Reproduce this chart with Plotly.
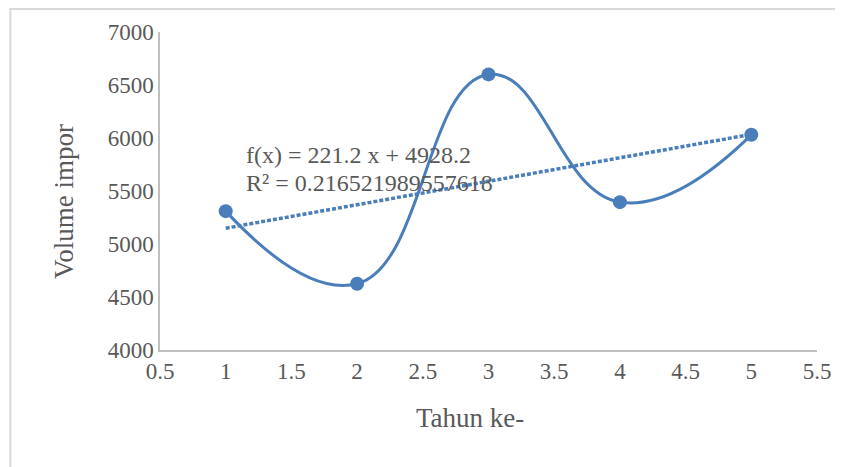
import plotly.graph_objects as go

years = [1, 2, 3, 4, 5]
volume = [5310, 4625, 6600, 5395, 6030]
trend_slope = 221.2
trend_intercept = 4928.2
trend_line1 = "f(x) = 221.2 x + 4928.2"
trend_line2 = "R² = 0.216521989557618"
x_ticks = [0.5, 1, 1.5, 2, 2.5, 3, 3.5, 4, 4.5, 5, 5.5]
y_ticks = [4000, 4500, 5000, 5500, 6000, 6500, 7000]
x_title = "Tahun ke-"
y_title = "Volume impor"

blue = "#4a7ebb"
gray = "#595959"
font_family = "Liberation Serif, Times New Roman, serif"

# plot area in page pixels (page has an 8px body margin)
PX0, PX1, PY0, PY1 = 160, 823, 32, 350
PW, PH = PX1 - PX0, PY1 - PY0


def px(x):
    return (x - PX0) / PW


def py(y):
    return (PY1 - y) / PH


trend_x = [years[0], years[-1]]
trend_y = [trend_intercept + trend_slope * x for x in trend_x]

fig = go.Figure()
fig.add_trace(go.Scatter(
    x=trend_x, y=trend_y, mode="lines",
    line=dict(color=blue, width=3.5, dash="4px,2px"),
    showlegend=False, hoverinfo="skip"))
fig.add_trace(go.Scatter(
    x=years, y=volume, mode="lines+markers",
    line=dict(color=blue, width=3, shape="spline", smoothing=1.3),
    marker=dict(color=blue, size=14),
    showlegend=False))

fig.add_annotation(
    x=px(245), y=py(155), xref="paper", yref="paper", text=trend_line1,
    showarrow=False, xanchor="left", yanchor="middle",
    font=dict(family=font_family, size=24, color=gray))
fig.add_annotation(
    x=px(245), y=py(183), xref="paper", yref="paper", text=trend_line2,
    showarrow=False, xanchor="left", yanchor="middle",
    font=dict(family=font_family, size=24, color=gray))

# axis titles
fig.add_annotation(
    x=px(473), y=py(418), xref="paper", yref="paper", text=x_title,
    showarrow=False, xanchor="center", yanchor="middle",
    font=dict(family=font_family, size=27, color=gray))
fig.add_annotation(
    x=px(63), y=py(201), xref="paper", yref="paper", text=y_title,
    showarrow=False, xanchor="center", yanchor="middle", textangle=-90,
    font=dict(family=font_family, size=27, color=gray))

# outer frame (left and top edges)
fig.add_shape(type="line", xref="paper", yref="paper",
              x0=px(9), x1=px(9), y0=py(8), y1=py(480),
              line=dict(color="#d9d9d9", width=2))
fig.add_shape(type="line", xref="paper", yref="paper",
              x0=px(8), x1=px(860), y0=py(9), y1=py(9),
              line=dict(color="#d9d9d9", width=2))

fig.update_layout(
    width=835, height=459,
    margin=dict(l=PX0 - 8, r=835 - (PX1 - 8), t=PY0 - 8, b=459 - (PY1 - 8)),
    paper_bgcolor="white", plot_bgcolor="white",
    font=dict(family=font_family, size=23, color=gray),
    xaxis=dict(range=[0.5, 5.5], tickvals=x_ticks,
               ticktext=[f"{v:g}" for v in x_ticks],
               showgrid=False, zeroline=False, showline=True,
               linecolor="#bfbfbf", linewidth=1.5, ticks="",
               tickfont=dict(size=23, color=gray)),
    yaxis=dict(range=[4000, 7000], tickvals=y_ticks,
               showgrid=False, zeroline=False, showline=True,
               linecolor="#bfbfbf", linewidth=1.5, ticks="",
               tickfont=dict(size=23, color=gray)),
)

fig.write_html("out.html")
